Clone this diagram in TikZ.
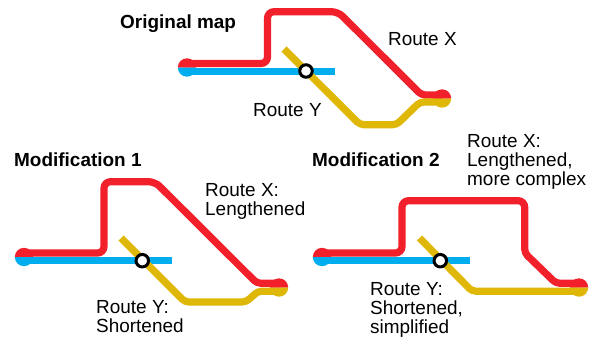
\documentclass[tikz,border=0pt]{standalone}
\usepackage{fontspec}
\setmainfont{Liberation Sans}
\definecolor{routered}{HTML}{F1202A}
\definecolor{routeblue}{HTML}{00AEEF}
\definecolor{routeyellow}{HTML}{DFB706}
\tikzset{
  routeline/.style={line width=7.2pt,rounded corners=6.5pt,line cap=butt},
  diagcorner/.style={rounded corners=4pt},
  redroute/.style={routeline,routered},
  blueroute/.style={routeline,routeblue},
  yellowroute/.style={routeline,routeyellow},
  station/.style={circle,draw=black,fill=white,line width=3pt,minimum size=12.5pt,inner sep=0pt},
  label/.style={anchor=base west,inner sep=0pt,font=\fontsize{18.95}{19.2}\selectfont},
  titlelabel/.style={label,font=\fontsize{18.95}{19.2}\selectfont\bfseries},
}
\newcommand{\halfdisc}[3]{%
  \fill[#1] ([xshift=-9.2pt]#3) arc (180:0:9.2pt) -- cycle;
  \fill[#2] ([xshift=-9.2pt]#3) arc (180:360:9.2pt) -- cycle;
}
\begin{document}
\begin{tikzpicture}[x=1pt,y=-1pt]
\useasboundingbox (0,0) rectangle (598,338);
% Original map
\draw[redroute] (187,63.5) -- (267.5,63.5) -- (267.5,11.7) -- (338,11.7) [rounded corners=4pt] -- (421.5,95) -- (442,95);
\draw[blueroute] (187,71.2) -- (335,71.2);
\draw[yellowroute,diagcorner] (284,49) -- (360,124.7) -- (396.5,124.7) -- (420,102) -- (442,102);
\halfdisc{routered}{routeblue}{187,67.5}
\halfdisc{routered}{routeyellow}{442,98.5}
\node[station] (s0) at (306,71) {};
\node[titlelabel] (t0) at (120,28) {Original map};
\node[label] (x0) at (388,45) {Route X};
\node[label] (y0) at (253,116.5) {Route Y};
% Modification 1
\draw[redroute] (24,253) -- (104,253) -- (104,181.7) -- (155,181.7) [rounded corners=4pt] -- (257,283.3) -- (279,283.3);
\draw[blueroute] (24,260.7) -- (172,260.7);
\draw[yellowroute,diagcorner] (121,238) -- (185,302) -- (246,302) -- (258,291.2) -- (279,291.2);
\halfdisc{routered}{routeblue}{24,257}
\halfdisc{routered}{routeyellow}{279,287.5}
\node[station] (s1) at (142.3,260.7) {};
\node[titlelabel] (t1) at (14,166) {Modification 1};
\node[label] (x1a) at (205,196) {Route X:};
\node[label] (x1b) at (205,215) {Lengthened};
\node[label] (y1a) at (96,313.5) {Route Y:};
\node[label] (y1b) at (96,332.5) {Shortened};
% Modification 2
\draw[redroute] (322,253) -- (402,253) -- (402,200.7) -- (524.7,200.7) [rounded corners=4pt] -- (524.7,253) -- (556,283.3) -- (579,283.3);
\draw[blueroute] (322,260.7) -- (470,260.7);
\draw[yellowroute,diagcorner] (419.5,238) -- (472,291.2) -- (579,291.2);
\halfdisc{routered}{routeblue}{322,257}
\halfdisc{routered}{routeyellow}{579,287.5}
\node[station] (s2) at (440.3,260.7) {};
\node[titlelabel] (t2) at (312,166) {Modification 2};
\node[label] (x2a) at (467,147) {Route X:};
\node[label] (x2b) at (467,166) {Lengthened,};
\node[label] (x2c) at (467,185) {more complex};
\node[label] (y2a) at (370,295) {Route Y:};
\node[label] (y2b) at (370,314) {Shortened,};
\node[label] (y2c) at (370,333) {simplified};
\end{tikzpicture}
\end{document}
